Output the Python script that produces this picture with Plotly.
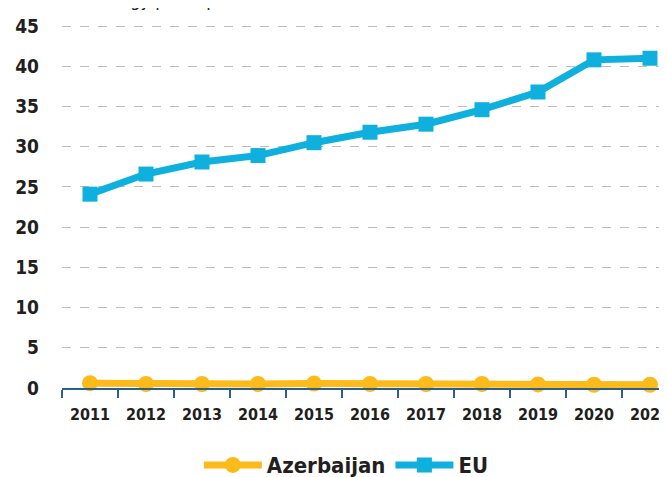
import plotly.graph_objects as go

years = ["2011", "2012", "2013", "2014", "2015", "2016", "2017", "2018", "2019", "2020", "2021"]
azerbaijan = [0.6, 0.5, 0.5, 0.5, 0.55, 0.5, 0.5, 0.5, 0.45, 0.4, 0.4]
eu = [24.1, 26.6, 28.1, 28.9, 30.5, 31.8, 32.8, 34.6, 36.8, 40.8, 41.0]
y_ticks = [0, 5, 10, 15, 20, 25, 30, 35, 40, 45]

FONT = "'DejaVu Sans Condensed', 'Open Sans', sans-serif"
TXT = "#231f20"

fig = go.Figure()
fig.add_trace(go.Scatter(
    x=years, y=azerbaijan, name="Azerbaijan", mode="lines+markers",
    line=dict(color="#FDBA1B", width=7),
    marker=dict(symbol="circle", size=16, color="#FDBA1B"),
    cliponaxis=False,
))
fig.add_trace(go.Scatter(
    x=years, y=eu, name="EU", mode="lines+markers",
    line=dict(color="#0FB0DE", width=7),
    marker=dict(symbol="square", size=15, color="#0FB0DE"),
    cliponaxis=False,
))

fig.update_layout(
    width=667, height=477,
    margin=dict(l=54, r=8, t=6, b=97, autoexpand=False),
    paper_bgcolor="white", plot_bgcolor="white",
    font=dict(family=FONT, color=TXT),
    showlegend=True,
    legend=dict(
        orientation="h", x=0.47, xanchor="center", y=-0.15, yanchor="top",
        font=dict(family=FONT, size=22, color=TXT, weight="bold"),
        itemwidth=58, itemsizing="trace", traceorder="normal",
    ),
    xaxis=dict(
        type="category", range=[-0.5, 10.304], automargin=False,
        tickson="boundaries", ticks="outside", ticklen=8, tickwidth=2,
        tickcolor="#2d5f8b",
        showline=True, linecolor="#2d5f8b", linewidth=2,
        showgrid=False, zeroline=False,
        tickfont=dict(family=FONT, size=16, color=TXT, weight="bold"),
        ticklabelstandoff=11,
    ),
    yaxis=dict(
        range=[0, 46.5], tickmode="array", tickvals=y_ticks, automargin=False,
        showgrid=True, gridcolor="#bdbdbd", griddash="dash", gridwidth=1,
        zeroline=False, showline=False, ticks="",
        tickfont=dict(family=FONT, size=19, color=TXT, weight="bold"),
        ticklabelstandoff=22,
    ),
)

fig.add_annotation(
    text="(% of total energy per capita)", xref="paper", yref="paper",
    x=-0.1, xanchor="left", y=1, yanchor="bottom", yshift=2,
    showarrow=False, font=dict(family=FONT, size=18, color=TXT),
)

fig.write_html("out.html")
